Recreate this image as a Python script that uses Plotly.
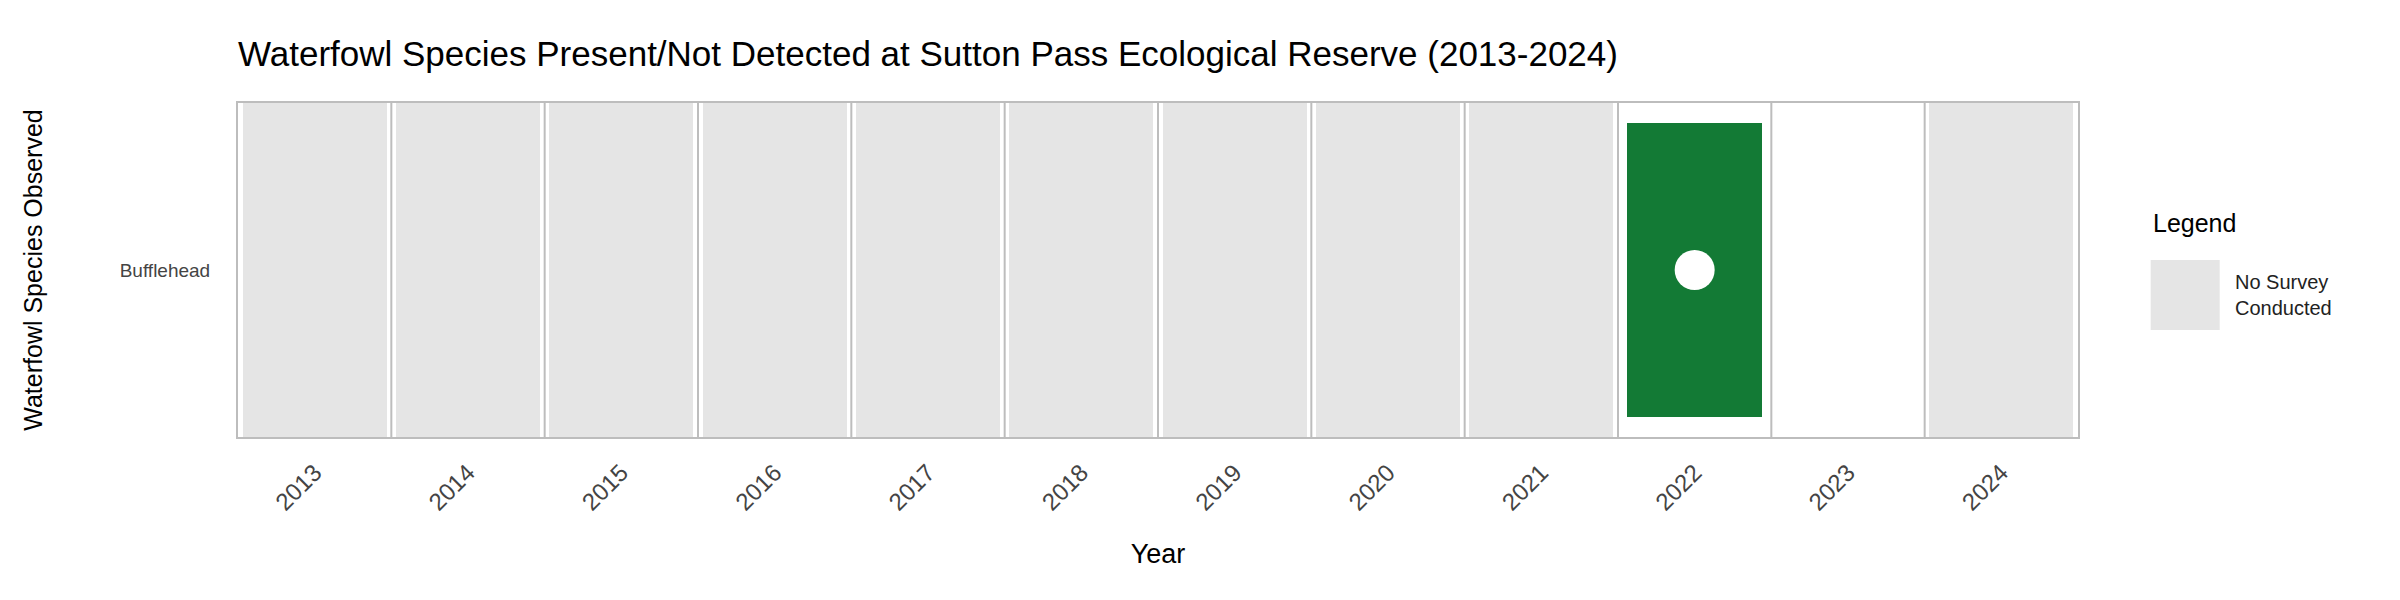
import plotly.graph_objects as go

years = list(range(2013, 2025))
species = "Bufflehead"
no_survey_years = [2013, 2014, 2015, 2016, 2017, 2018, 2019, 2020, 2021, 2024]
present_years = [2022]
not_detected_years = [2023]

GREY = "#e5e5e5"
GREEN = "#137a35"
LINE = "#bdbdbd"

fig = go.Figure()

# separator lines between year columns
sep_x, sep_y = [], []
for yr in years[:-1]:
    sep_x += [yr + 0.5, yr + 0.5, None]
    sep_y += [0, 1, None]
fig.add_trace(go.Scatter(x=sep_x, y=sep_y, mode="lines", line=dict(color=LINE, width=2),
                         hoverinfo="skip", showlegend=False))

fig.add_trace(go.Bar(x=no_survey_years, y=[1] * len(no_survey_years), base=0, width=0.94,
                     marker=dict(color=GREY, line=dict(width=0)),
                     name="No Survey Conducted", showlegend=False))

fig.add_trace(go.Bar(x=present_years, y=[0.88], base=0.06, width=0.88,
                     marker=dict(color=GREEN, line=dict(width=0)), showlegend=False))

fig.add_trace(go.Scatter(x=present_years, y=[0.5], mode="markers",
                         marker=dict(color="white", size=40), showlegend=False))

# legend drawn by hand (large ggplot-style key)
fig.add_shape(type="rect", xref="paper", yref="paper", x0=1.0395, x1=1.0770,
              y0=0.32, y1=0.53, fillcolor=GREY, line=dict(width=0))
fig.add_annotation(xref="paper", yref="paper", x=1.0395, y=0.64, xanchor="left",
                   yanchor="middle", showarrow=False, align="left",
                   text="Legend", font=dict(size=25, color="black"))
fig.add_annotation(xref="paper", yref="paper", x=1.084, y=0.425, xanchor="left",
                   yanchor="middle", showarrow=False, align="left",
                   text="No Survey<br>Conducted", font=dict(size=20, color="#222"))

fig.update_layout(
    width=2400, height=600,
    paper_bgcolor="white", plot_bgcolor="white",
    font=dict(family="Liberation Sans, Arial, sans-serif", color="#222"),
    title=dict(text="Waterfowl Species Present/Not Detected at Sutton Pass Ecological Reserve (2013-2024)",
               x=230 / 2400, xanchor="left", y=0.945, font=dict(size=35, color="black")),
    margin=dict(l=230, r=330, t=95, b=171),
    bargap=0, barmode="overlay",
    showlegend=False,
)
fig.update_xaxes(range=[2012.5, 2024.5], tickvals=years, ticktext=[str(y) for y in years],
                 tickangle=-45, tickfont=dict(size=24, color="#444"), showgrid=False,
                 zeroline=False, showline=True, mirror=True, linecolor=LINE, linewidth=2,
                 ticklabelstandoff=10,
                 title=dict(text="Year", font=dict(size=27, color="black"), standoff=30))
fig.update_yaxes(range=[0, 1], tickvals=[0.5], ticktext=[species],
                 tickfont=dict(size=19, color="#444"), showgrid=False, zeroline=False,
                 showline=True, mirror=True, linecolor=LINE, linewidth=2, ticklen=0,
                 ticklabelstandoff=22,
                 title=dict(text="Waterfowl Species Observed", font=dict(size=25, color="black"),
                            standoff=70))

fig.write_html("out.html")
